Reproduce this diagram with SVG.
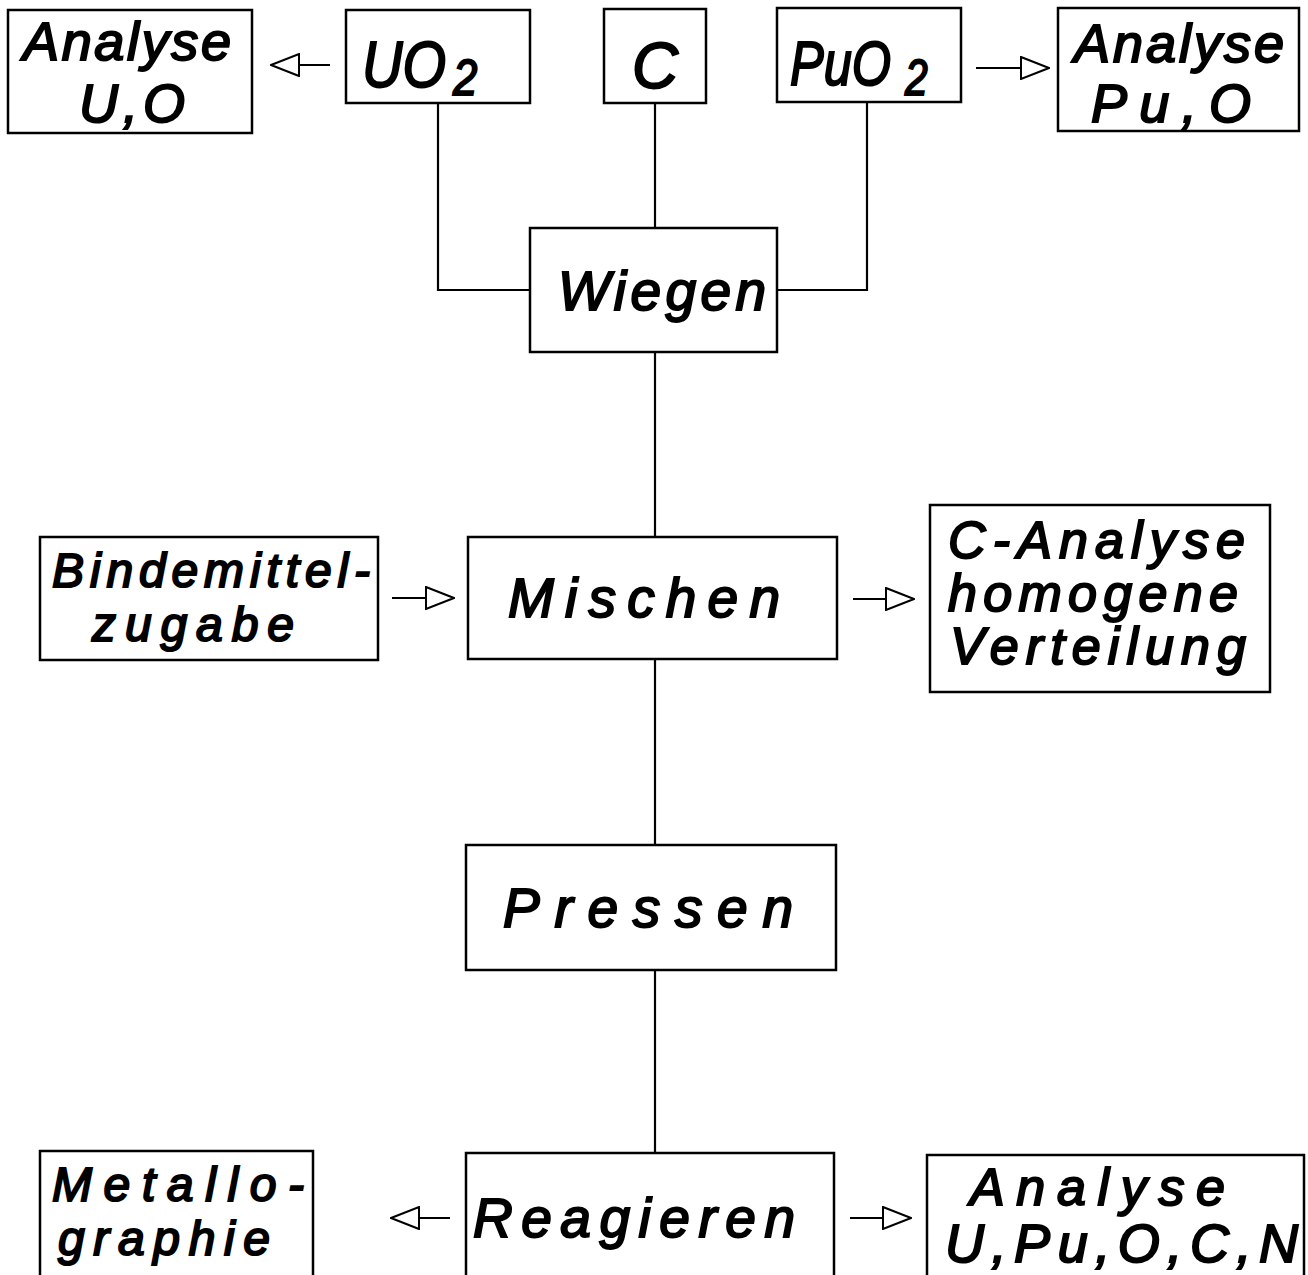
<svg xmlns="http://www.w3.org/2000/svg" width="1308" height="1275" viewBox="0 0 1308 1275">
<style>
.box{fill:#fff;stroke:#000;stroke-width:2.5}
.t{font-family:"Liberation Sans",Arial,sans-serif;font-style:italic;fill:#000;stroke:#000;stroke-width:2}
.con{fill:none;stroke:#000;stroke-width:2.2}
</style>
<defs>
<marker id="tri" viewBox="0 0 30 24" refX="29" refY="12" markerWidth="30" markerHeight="24" markerUnits="userSpaceOnUse" orient="auto">
<path d="M1,1 L29,12 L1,23 Z" fill="#fff" stroke="#000" stroke-width="2"/>
</marker>
</defs>
<rect width="1308" height="1275" fill="#fff"/>
<g id="connectors">
<line class="con" x1="330" y1="65" x2="271" y2="65" marker-end="url(#tri)"/>
<line class="con" x1="976" y1="68" x2="1049" y2="68" marker-end="url(#tri)"/>
<polyline class="con" points="438,103 438,290 530,290"/>
<line class="con" x1="655" y1="103" x2="655" y2="228"/>
<polyline class="con" points="867,102 867,290 777,290"/>
<line class="con" x1="655" y1="352" x2="655" y2="537"/>
<line class="con" x1="392" y1="598" x2="454" y2="598" marker-end="url(#tri)"/>
<line class="con" x1="853" y1="599" x2="914" y2="599" marker-end="url(#tri)"/>
<line class="con" x1="655" y1="659" x2="655" y2="845"/>
<line class="con" x1="655" y1="970" x2="655" y2="1152"/>
<line class="con" x1="450" y1="1218" x2="391" y2="1218" marker-end="url(#tri)"/>
<line class="con" x1="850" y1="1218" x2="911" y2="1218" marker-end="url(#tri)"/>
</g>
<g id="analyse-uo">
<rect class="box" x="8" y="10" width="244" height="123"/>
<text class="t" x="23" y="60" font-size="54" textLength="208" lengthAdjust="spacing">Analyse</text>
<text class="t" x="79" y="122" font-size="54" textLength="106" lengthAdjust="spacing">U,O</text>
</g>
<g id="uo2">
<rect class="box" x="346" y="10" width="184" height="93"/>
<text class="t" transform="translate(362 87) scale(0.875 1)" font-size="64">UO<tspan dx="8" dy="8" font-size="50">2</tspan></text>
</g>
<g id="c">
<rect class="box" x="604" y="9" width="102" height="94"/>
<text class="t" x="632" y="88" font-size="64" textLength="46" lengthAdjust="spacingAndGlyphs">C</text>
</g>
<g id="puo2">
<rect class="box" x="777" y="8" width="184" height="94"/>
<text class="t" transform="translate(790 85) scale(0.815 1)" font-size="62">PuO<tspan dx="17" dy="10" font-size="50">2</tspan></text>
</g>
<g id="analyse-puo">
<rect class="box" x="1058" y="8" width="241" height="123"/>
<text class="t" x="1074" y="62" font-size="54" textLength="210" lengthAdjust="spacing">Analyse</text>
<text class="t" x="1091" y="122" font-size="54" textLength="160" lengthAdjust="spacing">Pu,O</text>
</g>
<g id="wiegen">
<rect class="box" x="530" y="228" width="247" height="124"/>
<text class="t" x="558" y="310" font-size="55" textLength="208" lengthAdjust="spacing">Wiegen</text>
</g>
<g id="bindemittel">
<rect class="box" x="40" y="537" width="338" height="123"/>
<text class="t" x="52" y="587" font-size="48" textLength="318" lengthAdjust="spacing">Bindemittel-</text>
<text class="t" x="92" y="641" font-size="48" textLength="202" lengthAdjust="spacing">zugabe</text>
</g>
<g id="mischen">
<rect class="box" x="468" y="537" width="369" height="122"/>
<text class="t" x="508" y="617" font-size="55" textLength="272" lengthAdjust="spacing">Mischen</text>
</g>
<g id="c-analyse">
<rect class="box" x="930" y="505" width="340" height="187"/>
<text class="t" x="948" y="558" font-size="52" textLength="297" lengthAdjust="spacing">C-Analyse</text>
<text class="t" x="948" y="611" font-size="52" textLength="290" lengthAdjust="spacing">homogene</text>
<text class="t" x="950" y="664" font-size="52" textLength="296" lengthAdjust="spacing">Verteilung</text>
</g>
<g id="pressen">
<rect class="box" x="466" y="845" width="370" height="125"/>
<text class="t" x="503" y="927" font-size="55" textLength="290" lengthAdjust="spacing">Pressen</text>
</g>
<g id="metallographie">
<rect class="box" x="40" y="1151" width="273" height="140"/>
<text class="t" x="52" y="1201" font-size="48" textLength="252" lengthAdjust="spacing">Metallo-</text>
<text class="t" x="58" y="1255" font-size="48" textLength="212" lengthAdjust="spacing">graphie</text>
</g>
<g id="reagieren">
<rect class="box" x="466" y="1153" width="368" height="140"/>
<text class="t" x="473" y="1237" font-size="55" textLength="322" lengthAdjust="spacing">Reagieren</text>
</g>
<g id="analyse-upuocn">
<rect class="box" x="927" y="1155" width="377" height="140"/>
<text class="t" x="970" y="1205" font-size="52" textLength="255" lengthAdjust="spacing">Analyse</text>
<text class="t" x="945" y="1262" font-size="54" textLength="353" lengthAdjust="spacing">U,Pu,O,C,N</text>
</g>
</svg>
